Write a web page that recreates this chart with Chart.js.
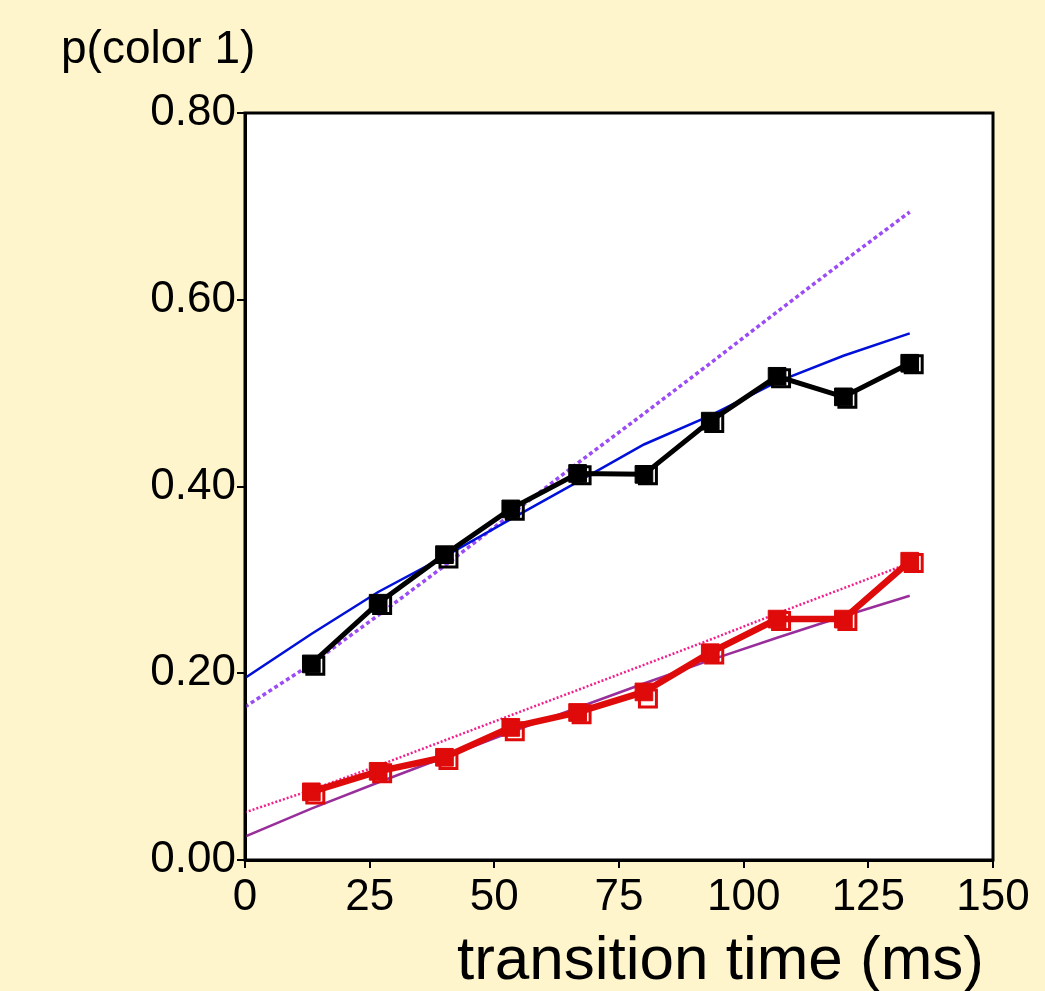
<!DOCTYPE html>
<html>
<head>
<meta charset="utf-8">
<script src="https://cdn.jsdelivr.net/npm/chart.js@4/dist/chart.umd.min.js"></script>
<style>
html,body{margin:0;padding:0;background:#FFF5CC;overflow:hidden;}
#wrap{width:1045px;height:991px;}
</style>
</head>
<body>
<div id="wrap"><canvas id="c" width="1045" height="991"></canvas></div>
<script>
// ---- data ----
const times      = [13.3, 26.7, 40, 53.3, 66.7, 80, 93.3, 106.7, 120, 133.3];
const openTimes  = [14.1, 27.5, 40.8, 54.1, 67.5, 80.8, 94.1, 107.5, 120.8, 134.1];
const blackFilled = [0.210, 0.275, 0.327, 0.376, 0.414, 0.413, 0.470, 0.518, 0.496, 0.532];
const blackOpen   = [0.208, 0.273, 0.323, 0.374, 0.412, 0.412, 0.468, 0.516, 0.494, 0.531];
const redFilled   = [0.073, 0.095, 0.110, 0.142, 0.158, 0.180, 0.222, 0.258, 0.258, 0.320];
const redOpen     = [0.070, 0.093, 0.107, 0.138, 0.156, 0.173, 0.220, 0.256, 0.256, 0.318];
const fitTimes    = [0, 13.3, 26.7, 40, 53.3, 66.7, 80, 93.3, 106.7, 120, 133.3];
const blueFit     = [0.195, 0.242, 0.287, 0.325, 0.365, 0.405, 0.445, 0.476, 0.512, 0.540, 0.564];
const violetFit   = [0.164, 0.210, 0.262, 0.315, 0.370, 0.425, 0.478, 0.532, 0.587, 0.641, 0.694];
const pinkFit     = [0.051, 0.075, 0.101, 0.128, 0.155, 0.182, 0.209, 0.236, 0.264, 0.291, 0.318];
const plumFit     = [0.025, 0.055, 0.083, 0.110, 0.137, 0.163, 0.189, 0.214, 0.238, 0.261, 0.283];
const xTicks = [0, 25, 50, 75, 100, 125, 150];
const yTicks = [0, 0.2, 0.4, 0.6, 0.8];
const yTitle = 'p(color 1)';
const xTitle = 'transition time (ms)';

const pts = (xs, ys) => xs.map((x, i) => ({x: x, y: ys[i]}));
const FONT = "'Liberation Sans', Arial, sans-serif";

const fitDs = (label, ys, color, width, dash) => ({
  label, data: pts(fitTimes, ys), showLine: true, borderColor: color,
  borderWidth: width, borderDash: dash || [], pointRadius: 0, fill: false, order: 5
});

const frame = {
  id: 'frame',
  beforeDraw(chart) {
    const {ctx, chartArea: a} = chart;
    ctx.save();
    ctx.fillStyle = '#FFF5CC';
    ctx.fillRect(0, 0, chart.width, chart.height);
    ctx.fillStyle = '#FFFFFF';
    ctx.fillRect(a.left, a.top, a.right - a.left, a.bottom - a.top);
    ctx.restore();
  },
  afterDraw(chart) {
    const {ctx, chartArea: a} = chart;
    ctx.save();
    ctx.strokeStyle = '#000';
    ctx.lineWidth = 3;
    ctx.strokeRect(a.left, a.top, a.right - a.left, a.bottom - a.top);
    ctx.fillStyle = '#000';
    ctx.textBaseline = 'alphabetic';
    ctx.font = '46px ' + FONT;
    ctx.textAlign = 'left';
    ctx.fillText(yTitle, 61, 63);
    ctx.font = '62px ' + FONT;
    ctx.textAlign = 'right';
    ctx.fillText(xTitle, 984, 979);
    ctx.restore();
  }
};

new Chart(document.getElementById('c'), {
  type: 'scatter',
  data: {
    datasets: [
      fitDs('blue fit', blueFit, '#0010D8', 2.5),
      fitDs('violet fit', violetFit, '#9B4CF5', 3.5, [4, 3]),
      fitDs('pink fit', pinkFit, '#F0208C', 2.5, [2, 2]),
      fitDs('plum fit', plumFit, '#992E9A', 2.5),
      {
        label: 'black', data: pts(times, blackFilled), showLine: true,
        borderColor: '#000', borderWidth: 5, pointStyle: 'rect', pointRadius: 12.5,
        pointBackgroundColor: '#000', pointBorderColor: '#000', pointBorderWidth: 1, order: 2
      },
      {
        label: 'black open', data: pts(openTimes, blackOpen), showLine: false,
        pointStyle: 'rect', pointRadius: 12, pointBackgroundColor: 'rgba(0,0,0,0)',
        pointBorderColor: '#000', pointBorderWidth: 3, order: 1
      },
      {
        label: 'red', data: pts(times, redFilled), showLine: true,
        borderColor: '#DF0A0A', borderWidth: 6.5, pointStyle: 'rect', pointRadius: 12.5,
        pointBackgroundColor: '#DF0A0A', pointBorderColor: '#DF0A0A', pointBorderWidth: 1, order: 2
      },
      {
        label: 'red open', data: pts(openTimes, redOpen), showLine: false,
        pointStyle: 'rect', pointRadius: 12, pointBackgroundColor: 'rgba(0,0,0,0)',
        pointBorderColor: '#DF0A0A', pointBorderWidth: 3, order: 1
      }
    ]
  },
  options: {
    responsive: false,
    animation: false,
    layout: {padding: {left: 0, right: 52, top: 113, bottom: 0}},
    plugins: {legend: {display: false}, tooltip: {enabled: false}},
    scales: {
      x: {
        type: 'linear', min: 0, max: 150,
        afterBuildTicks: s => { s.ticks = xTicks.map(v => ({value: v})); },
        afterFit: s => { s.height = 131; },
        grid: {display: true, drawOnChartArea: false, drawTicks: true, tickLength: 8, color: '#000', lineWidth: 2},
        border: {display: true, color: '#000', width: 3},
        ticks: {color: '#000', font: {size: 44, family: FONT}, padding: 3, maxRotation: 0},
        title: {display: false}
      },
      y: {
        type: 'linear', min: 0, max: 0.8,
        afterBuildTicks: s => { s.ticks = yTicks.map(v => ({value: v})); },
        afterFit: s => { s.width = 245; },
        grid: {display: true, drawOnChartArea: false, drawTicks: true, tickLength: 8, color: '#000', lineWidth: 2},
        border: {display: true, color: '#000', width: 3},
        ticks: {color: '#000', font: {size: 44, family: FONT}, padding: 1,
                callback: v => Number(v).toFixed(2)}
      }
    }
  },
  plugins: [frame]
});
</script>
</body>
</html>
